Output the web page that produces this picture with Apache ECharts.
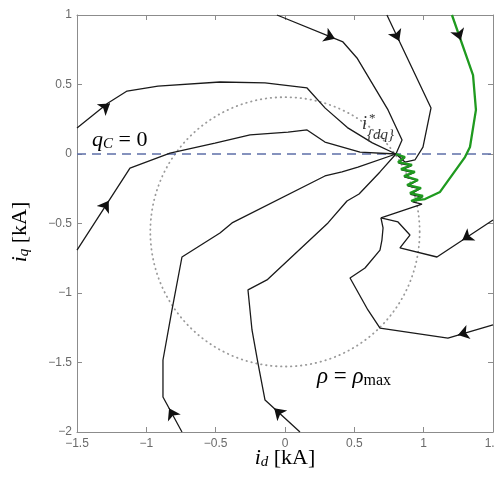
<!DOCTYPE html>
<html><head><meta charset="utf-8">
<script src="https://cdn.jsdelivr.net/npm/echarts@6/dist/echarts.min.js"></script>
<style>html,body{margin:0;padding:0;background:#fff}#c{width:495px;height:486px}</style>
</head><body><div id="c"></div>
<script>
// ---- axis ticks ----
const xTickValues = [-1.5, -1, -0.5, 0, 0.5, 1, 1.5];
const xTickLabels = ['−1.5', '−1', '−0.5', '0', '0.5', '1', '1.5'];
const yTickValues = [1, 0.5, 0, -0.5, -1, -1.5, -2];
const yTickLabels = ['1', '0.5', '0', '−0.5', '−1', '−1.5', '−2'];

// ---- reference curves ----
const qcZeroLine = [[-1.5, 0], [1.5, 0]];
const circleCenter = [0, -0.56];
const rhoMax = 0.97;

// ---- trajectories (i_d, i_q) in kA ----
const trajTopLeft = [[-1.5,0.187],[-1.276,0.367],[-1.139,0.453],[-0.916,0.489],[-0.469,0.518],[-0.144,0.511],[0.159,0.475],[0.29,0.33],[0.45,0.19],[0.63,0.08],[0.8,0]];
const trajLeft = [[-1.5,-0.691],[-1.118,-0.101],[-0.829,0.007],[-0.505,0.079],[-0.252,0.137],[0.022,0.158],[0.159,0.173],[0.288,0.086],[0.541,0.014],[0.8,0]];
const trajTop1 = [[-0.058,1.0],[0.418,0.806],[0.519,0.691],[0.743,0.317],[0.844,0.101],[0.8,0]];
const trajTop2 = [[0.735,1.0],[1.053,0.331],[0.995,0.05],[0.937,-0.043],[0.865,-0.058],[0.8,0]];
const trajRight1 = [[1.5,-0.475],[1.096,-0.741],[0.829,-0.676],[0.901,-0.583],[0.815,-0.489],[0.692,-0.46],[0.988,-0.36],[0.92,-0.345],[0.99,-0.31],[0.905,-0.29],[0.975,-0.25],[0.885,-0.23],[0.955,-0.19],[0.86,-0.165],[0.93,-0.135],[0.84,-0.115],[0.91,-0.085],[0.82,-0.065],[0.86,-0.03],[0.8,0]];
const trajRight2 = [[1.5,-1.23],[1.175,-1.324],[0.685,-1.252],[0.598,-1.122],[0.469,-0.892],[0.577,-0.82],[0.685,-0.691],[0.699,-0.619],[0.707,-0.532],[0.692,-0.46]];
const trajBottom1 = [[0.108,-2.0],[-0.144,-1.77],[-0.195,-1.504],[-0.238,-1.266],[-0.267,-0.978],[-0.13,-0.906],[0.31,-0.496],[0.447,-0.338],[0.534,-0.288],[0.685,-0.129],[0.8,0]];
const trajBottom2 = [[-0.743,-2.0],[-0.88,-1.748],[-0.88,-1.482],[-0.815,-1.122],[-0.743,-0.741],[-0.469,-0.568],[-0.382,-0.496],[0.288,-0.158],[0.411,-0.129],[0.526,-0.094],[0.8,0]];
const trajGreen = [[1.204,1.0],[1.356,0.568],[1.377,0.317],[1.334,0.05],[1.298,-0.022],[1.118,-0.273],[1.01,-0.324],[0.909,-0.338],[0.995,-0.302],[0.901,-0.281],[0.981,-0.245],[0.88,-0.223],[0.959,-0.187],[0.858,-0.158],[0.937,-0.129],[0.836,-0.108],[0.916,-0.079],[0.815,-0.058],[0.865,-0.022],[0.8,0]];

// ---- arrow heads: [point behind, tip] ----
const arrowHeads = [
  [[-1.5,0.187],[-1.262,0.363]],
  [[-1.5,-0.691],[-1.271,-0.337]],
  [[-0.058,1.0],[0.361,0.829]],
  [[0.735,1.0],[0.824,0.813]],
  [[1.204,1.0],[1.268,0.819]],
  [[1.5,-0.475],[1.278,-0.621]],
  [[1.5,-1.23],[1.247,-1.303]],
  [[0.108,-2.0],[-0.078,-1.83]],
  [[-0.743,-2.0],[-0.836,-1.829]]
];

const blackTraj = [trajTopLeft, trajLeft, trajTop1, trajTop2, trajRight1, trajRight2, trajBottom1, trajBottom2];

function fmt(values, labels) {
  return v => { const i = values.findIndex(t => Math.abs(t - v) < 1e-9); return i >= 0 ? labels[i] : ''; };
}
const axisGray = '#8c8c8c';
function mkX(pos, show) {
  return { type:'value', position:pos, min:-1.5, max:1.5, interval:0.5,
    axisLine:{show:true, onZero:false, lineStyle:{color:axisGray, width:1}},
    axisTick:{show:true, inside:true, length:5, lineStyle:{color:axisGray}},
    axisLabel:{show:show, color:'#6a6a6a', fontSize:12, margin:6, fontFamily:'Liberation Sans, Arial, sans-serif', formatter:fmt(xTickValues, xTickLabels), showMinLabel:true, showMaxLabel:true},
    splitLine:{show:false} };
}
function mkY(pos, show) {
  return { type:'value', position:pos, min:-2, max:1, interval:0.5,
    axisLine:{show:true, onZero:false, lineStyle:{color:axisGray, width:1}},
    axisTick:{show:true, inside:true, length:5, lineStyle:{color:axisGray}},
    axisLabel:{show:show, color:'#6a6a6a', fontSize:12, margin:5, fontFamily:'Liberation Sans, Arial, sans-serif', formatter:fmt(yTickValues, yTickLabels), showMinLabel:true, showMaxLabel:true},
    splitLine:{show:false} };
}

const series = [];
series.push({ type:'line', data:qcZeroLine, symbol:'none', silent:true, z:1,
  lineStyle:{color:'#5d6fa8', width:1.3, type:[9,6]} });
blackTraj.forEach(d => series.push({ type:'line', data:d, symbol:'none', silent:true, z:2,
  lineStyle:{color:'#1a1a1a', width:1.3} }));
series.push({ type:'line', data:trajGreen, symbol:'none', silent:true, z:3,
  lineStyle:{color:'#1f9a1f', width:2.3} });
series.push({ type:'lines', coordinateSystem:'cartesian2d', z:4, silent:true,
  symbol:['none','arrow'], symbolSize:11,
  lineStyle:{color:'#111', width:1, opacity:1},
  data: arrowHeads.map(([a,b]) => ({ coords:[[b[0]+(a[0]-b[0])*0.08, b[1]+(a[1]-b[1])*0.08], b] })) });

const chart = echarts.init(document.getElementById('c'));
chart.setOption({
  animation:false,
  backgroundColor:'#fff',
  grid:{left:77, right:2, top:15, bottom:54, containLabel:false, outerBoundsMode:'none'},
  xAxis:[mkX('bottom', true), mkX('top', false)],
  yAxis:[mkY('left', true), mkY('right', false)],
  series: series
});

const serif = 'Liberation Serif, "DejaVu Serif", serif';
const c = chart.convertToPixel({xAxisIndex:0, yAxisIndex:0}, circleCenter);
const ex = chart.convertToPixel({xAxisIndex:0, yAxisIndex:0}, [circleCenter[0]+rhoMax, circleCenter[1]]);
const ey = chart.convertToPixel({xAxisIndex:0, yAxisIndex:0}, [circleCenter[0], circleCenter[1]+rhoMax]);
const r = ((ex[0]-c[0]) + (c[1]-ey[1]))/2;

const mathRich = (fs) => ({
  it:{fontFamily:serif, fontStyle:'italic', fontSize:fs, lineHeight:fs+2, color:'#2a2a2a'},
  n:{fontFamily:serif, fontSize:fs, lineHeight:fs+2, color:'#2a2a2a'},
  s:{fontFamily:serif, fontStyle:'italic', fontSize:Math.round(fs*0.68), lineHeight:Math.round(fs*0.45), verticalAlign:'bottom', color:'#2a2a2a'},
  sr:{fontFamily:serif, fontSize:Math.round(fs*0.68), lineHeight:Math.round(fs*0.45), verticalAlign:'bottom', color:'#2a2a2a'}
});

chart.setOption({
  graphic:[
    { type:'circle', z:1, silent:true, shape:{cx:c[0], cy:c[1], r:r},
      style:{fill:'none', stroke:'#9a9a9a', lineWidth:1.8, lineDash:[0.5,4.5], lineCap:'round'} },
    { type:'text', z:10, x:92, y:128, style:{ text:'{it|q}{s|C}{n| = 0}', rich:mathRich(22) } },
    { type:'text', z:10, x:317, y:364, style:{ text:'{it|ρ}{n| = }{it|ρ}{sr|max}', rich:mathRich(23) } },
    { type:'text', z:10, x:362, y:115, style:{ text:'i', font:'italic 18px '+serif, fill:'#333' } },
    { type:'text', z:10, x:369, y:112, style:{ text:'*', font:'13px '+serif, fill:'#333' } },
    { type:'text', z:10, x:367, y:128, style:{ text:'{dq}', font:'italic 15px '+serif, fill:'#333' } },
    { type:'text', z:10, x:285, y:458, style:{ text:'{it|i}{s|d}{n| [kA]}', rich:mathRich(22), align:'center', verticalAlign:'middle' } },
    { type:'text', z:10, x:20, y:232, rotation:Math.PI/2, style:{ text:'{it|i}{s|q}{n| [kA]}', rich:mathRich(22), align:'center', verticalAlign:'middle' } }
  ]
});
</script>
</body></html>
